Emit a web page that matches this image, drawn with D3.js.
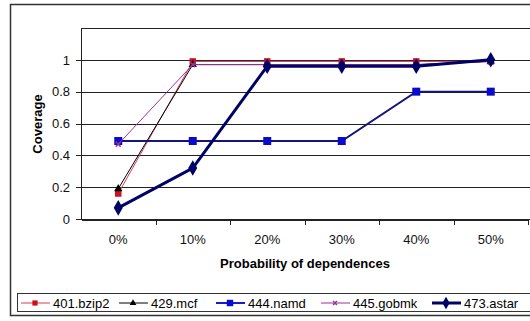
<!DOCTYPE html>
<meta charset="utf-8">
<style>
    body { margin: 0; background: #fff; }
    svg { font-family: "Liberation Sans", Arial, sans-serif; }
    .grid line { stroke: #222; stroke-width: 1px; shape-rendering: crispEdges; }
    .axis path, .axis line { stroke: #222; shape-rendering: crispEdges; }
    .axis text { font-size: 13px; fill: #111; }
</style>
<svg width="530" height="321"></svg>
<script src="https://d3js.org/d3.v7.min.js"></script>
<script>

    // categories and series values
    var categories = ["0%", "10%", "20%", "30%", "40%", "50%"];
    var yTicks = [0, 0.2, 0.4, 0.6, 0.8, 1];
    var seriesNames = ["401.bzip2", "429.mcf", "444.namd", "445.gobmk", "473.astar"];
    var bzip2 = [0.16, 0.99, 0.99, 0.99, 0.99, 0.99];
    var mcf = [0.19, 0.97, 0.97, 0.97, 0.97, 0.99];
    var namd = [0.49, 0.49, 0.49, 0.49, 0.80, 0.80];
    var gobmk = [0.47, 0.97, 0.97, 0.97, 0.97, 0.99];
    var astar = [0.07, 0.32, 0.96, 0.96, 0.96, 1.0];

    var values = [bzip2, mcf, namd, gobmk, astar];

    // styling per series
    var styles = [
        {line: "#d0405a", width: 1, marker: d3.symbolSquare, size: 42, fill: "#cc1122"},
        {line: "#000000", width: 1, marker: d3.symbolTriangle, size: 30, fill: "#000000"},
        {line: "#14147a", width: 2, marker: d3.symbolSquare, size: 64, fill: "#0a0acc"},
        {line: "#993399", width: 1, marker: d3.symbolTimes, size: 18, fill: "#993399"},
        {line: "#000066", width: 3, marker: d3.symbolDiamond, size: 70, fill: "#000066"}
    ];

    var svg = d3.select("svg");

    // outer chart border
    svg.append("rect")
        .attr("x", 10.5).attr("y", 4.5)
        .attr("width", 540).attr("height", 311)
        .attr("fill", "#fff").attr("stroke", "#333").attr("stroke-width", 1.5);

    var x = d3.scaleBand().domain(categories).range([81, 528]);
    var y = d3.scaleLinear().domain([0, 1.2]).range([219, 28]);

    // gridlines (incl. top line at 1.2)
    svg.append("g").attr("class", "grid")
        .selectAll("line")
        .data(yTicks.concat([1.2]))
        .enter().append("line")
        .attr("x1", 81).attr("x2", 530)
        .attr("y1", function (d) { return Math.round(y(d)) + 0.5; })
        .attr("y2", function (d) { return Math.round(y(d)) + 0.5; });

    // y axis
    var yAxis = svg.append("g").attr("class", "axis")
        .attr("transform", "translate(81,0)")
        .call(d3.axisLeft(y).tickValues(yTicks).tickFormat(d3.format("~g"))
            .tickSize(5).tickSizeOuter(0).tickPadding(6));
    yAxis.select(".domain").attr("d", "M0.5," + y(1.2) + "V" + y(0));

    // x axis: labels at band centres, tick marks at band edges
    var xAxis = svg.append("g").attr("class", "axis")
        .attr("transform", "translate(0," + (Math.round(y(0)) + 0.5) + ")")
        .call(d3.axisBottom(x).tickSize(0).tickSizeOuter(0).tickPadding(15));
    xAxis.selectAll(".edge")
        .data(categories)
        .enter().append("line")
        .attr("class", "edge")
        .attr("x1", function (d) { return Math.round(x(d) + x.bandwidth()) + 0.5; })
        .attr("x2", function (d) { return Math.round(x(d) + x.bandwidth()) + 0.5; })
        .attr("y1", 0).attr("y2", 5);

    // axis titles
    svg.append("text")
        .attr("x", 305).attr("y", 268)
        .attr("text-anchor", "middle")
        .style("font-size", "13px").style("font-weight", "bold")
        .text("Probability of dependences");

    svg.append("text")
        .attr("transform", "translate(42,124) rotate(-90)")
        .attr("text-anchor", "middle")
        .style("font-size", "13px").style("font-weight", "bold")
        .text("Coverage");

    // series
    var line = d3.line()
        .x(function (d, i) { return x(categories[i]) + x.bandwidth() / 2; })
        .y(function (d) { return y(d); });

    values.forEach(function (vals, s) {
        var st = styles[s];
        var g = svg.append("g").attr("class", "series");
        g.append("path")
            .attr("d", line(vals))
            .attr("fill", "none")
            .attr("stroke", st.line)
            .attr("stroke-width", st.width);
        g.selectAll("path.m")
            .data(vals)
            .enter().append("path")
            .attr("class", "m")
            .attr("transform", function (d, i) {
                return "translate(" + (x(categories[i]) + x.bandwidth() / 2) + "," + y(d) + ")";
            })
            .attr("d", d3.symbol().type(st.marker).size(st.size))
            .attr("fill", st.fill)
            .attr("stroke", st.marker === d3.symbolTimes ? st.fill : "none")
            .attr("stroke-width", 1.5);
    });

    // legend
    var legend = svg.append("g").attr("class", "legend");
    legend.append("rect")
        .attr("x", 17.5).attr("y", 293.5)
        .attr("width", 530).attr("height", 18)
        .attr("fill", "#fff").attr("stroke", "#333").attr("stroke-width", 1);

    var legendX = [21, 119, 216, 321, 432];
    var item = legend.selectAll("g.item")
        .data(seriesNames)
        .enter().append("g")
        .attr("class", "item")
        .attr("transform", function (d, i) { return "translate(" + legendX[i] + ",303)"; });
    item.append("line")
        .attr("x1", 0).attr("x2", 29)
        .attr("stroke", function (d, i) { return i === 2 ? "#1a1acc" : styles[i].line; })
        .attr("stroke-width", function (d, i) { return styles[i].width; });
    item.append("path")
        .attr("transform", "translate(14,0)")
        .attr("d", function (d, i) { return d3.symbol().type(styles[i].marker).size(styles[i].size * 0.65)(); })
        .attr("fill", function (d, i) { return styles[i].fill; })
        .attr("stroke", function (d, i) { return styles[i].marker === d3.symbolTimes ? styles[i].fill : "none"; })
        .attr("stroke-width", 1.5);
    item.append("text")
        .attr("x", 32).attr("dy", "0.36em")
        .style("font-size", "13px")
        .text(function (d) { return d; });

</script>
